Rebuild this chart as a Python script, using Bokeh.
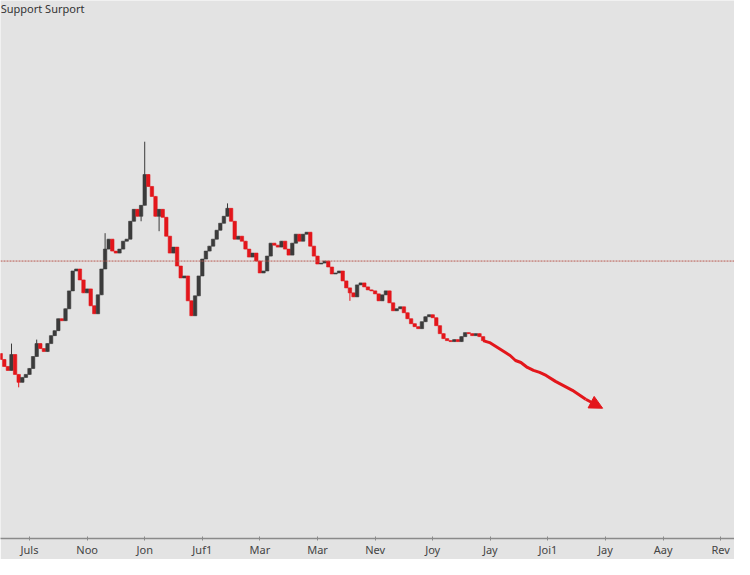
from bokeh.plotting import figure
from bokeh.models import Range1d, FixedTicker, Span, Label, Arrow, NormalHead, ColumnDataSource
from bokeh.embed import file_html
from bokeh.resources import INLINE
from bokeh.core.properties import value

# ---------------- data ----------------
title_text = "Support Surport"
tick_labels = ["Juls", "Noo", "Jon", "Juf1", "Mar", "Mar", "Nev", "Joy", "Jay", "Joi1", "Jay", "Aay", "Rev"]
tick_positions = [10, 26, 42, 58, 74, 90, 106, 122, 138, 154, 170, 186, 202]

first_index = 2
first_open = 197
close = [191, 184, 180, 196, 176, 168, 173, 176, 182, 194,
         207, 202, 199, 207, 215, 220, 232, 230, 242, 260,
         280, 282, 271, 258, 262, 245, 237, 256, 282, 302,
         312, 300, 298, 302, 310, 312, 330, 342, 335, 346,
         377, 365, 355, 335, 342, 334, 315, 298, 304, 285,
         273, 275, 250, 235, 255, 275, 292, 300, 305, 312,
         321, 328, 335, 343, 330, 312, 315, 310, 302, 294,
         298, 290, 278, 280, 295, 308, 306, 304, 310, 302,
         296, 308, 317, 310, 317, 319, 305, 295, 287, 288,
         290, 284, 277, 278, 280, 270, 263, 258, 254, 266,
         268, 264, 261, 260, 257, 250, 256, 260, 248, 240,
         242, 244, 238, 232, 227, 224, 222, 229, 234, 236,
         233, 225, 217, 212, 210, 209, 211, 209, 214, 218,
         217, 215, 217, 214, 210]

wick_high_index = [5, 12, 31, 42, 65]
wick_high_value = [207, 211, 318, 410, 348]
wick_low_index = [7, 41, 46, 99]
wick_low_value = [163, 330, 320, 250]

trend_x = [136.0, 137.8, 140.0, 142.2, 143.5, 145.0, 146.5, 148.3, 150.0, 151.7, 153.5, 156.1, 160.8, 164.5]
trend_y = [210, 208, 203, 198, 195, 190, 188, 183, 180, 178, 175, 169, 160, 151]
arrow_tip_x = 169.2
arrow_tip_y = 142

support_level = 290

# ---------------- build ----------------
RED = "#e3161b"
DARK = "#3b3b3b"
BG = "#e3e3e3"

n = len(close)
idx = list(range(first_index, first_index + n))
opens = [first_open] + close[:-1]
tops = [max(o, c) for o, c in zip(opens, close)]
bots = [min(o, c) for o, c in zip(opens, close)]
colors = [DARK if c > o else RED for o, c in zip(opens, close)]
highs = list(tops)
lows = list(bots)
for i, v in zip(wick_high_index, wick_high_value):
    highs[i - first_index] = v
for i, v in zip(wick_low_index, wick_low_value):
    lows[i - first_index] = v

src = ColumnDataSource(dict(x=idx, top=tops, bottom=bots, high=highs, low=lows, color=colors))

p = figure(width=734, height=559, output_backend="svg", toolbar_location=None,
           x_range=Range1d(1.944, 205.83), y_range=Range1d(11, 552),
           min_border=0, min_border_left=0, min_border_right=0, min_border_top=0)
p.background_fill_color = BG
p.border_fill_color = BG
p.outline_line_color = None
p.xgrid.visible = False
p.ygrid.visible = False
p.yaxis.visible = False

xa = p.xaxis[0]
xa.ticker = FixedTicker(ticks=tick_positions)
xa.major_label_overrides = {t: l for t, l in zip(tick_positions, tick_labels)}
xa.axis_line_color = "#8a8a8a"
xa.axis_line_width = 1.5
xa.major_tick_line_color = "#8a8a8a"
xa.major_tick_in = 2
xa.major_tick_out = 2
xa.minor_tick_line_color = None
xa.major_label_standoff = 1
xa.major_label_text_font = "Noto Sans"
xa.major_label_text_font_size = "11px"
xa.major_label_text_color = "#444444"

p.add_layout(Span(location=support_level, dimension="width", line_color="#b8584f",
                  line_dash="2 1", line_width=1))

p.segment(x0="x", y0="low", x1="x", y1="high", color="color", line_width=1, source=src)
p.vbar(x="x", top="top", bottom="bottom", width=0.95, fill_color="color",
       line_color="color", line_width=0.6, source=src)

p.line(trend_x, trend_y, line_color=RED, line_width=3, line_join="round")
p.add_layout(Arrow(end=NormalHead(size=13, fill_color=RED, line_color=RED),
                   x_start=trend_x[-1], y_start=trend_y[-1], x_end=arrow_tip_x, y_end=arrow_tip_y,
                   line_color=RED, line_width=3))

p.add_layout(Label(x=2.0, y=552, text=title_text, text_baseline="top", text_align="left",
                   text_font="Noto Sans", text_font_size="11px", text_color="#333333"))

open("out.html", "w").write(file_html(p, INLINE))
